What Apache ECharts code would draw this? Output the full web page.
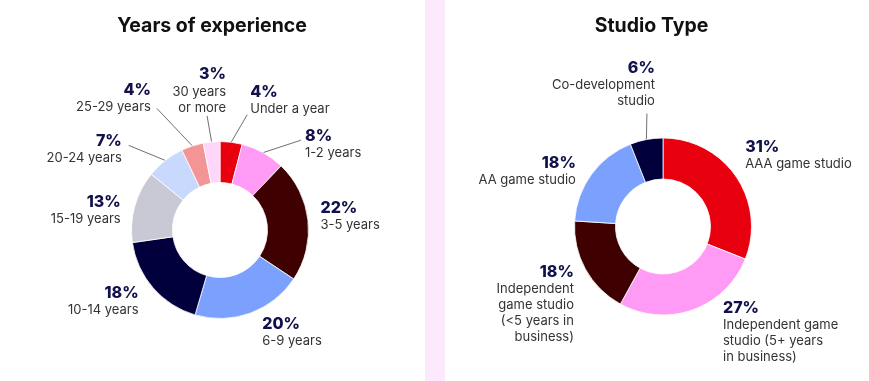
<!DOCTYPE html>
<html><head><meta charset="utf-8">
<script src="https://cdn.jsdelivr.net/npm/echarts@6/dist/echarts.min.js"></script>
<style>html,body{margin:0;padding:0;background:#fff}#c{width:869px;height:381px}</style>
</head><body><div id="c"></div>
<script>
// ---- data ----
const expTitle = 'Years of experience';
const expCategories = ['Under a year', '1-2 years', '3-5 years', '6-9 years', '10-14 years', '15-19 years', '20-24 years', '25-29 years', '30 years\nor more'];
const expValues = [4, 8, 22, 20, 18, 13, 7, 4, 3];

const studioTitle = 'Studio Type';
const studioCategories = ['AAA game studio', 'Independent game\nstudio (5+ years\nin business)', 'Independent\ngame studio\n(<5 years in\nbusiness)', 'AA game studio', 'Co-development\nstudio'];
const studioValues = [31, 27, 18, 18, 6];

// ---- styles ----
const expColors = ['#e8000e', '#ff9bf5', '#3e0000', '#7ca0fd', '#02003c', '#c9c9d5', '#c9d8fd', '#f49595', '#fdd6fa'];
const studioColors = ['#e8000e', '#ff9bf5', '#3e0000', '#7ca0fd', '#02003c'];
const expLines = [true, true, false, false, false, false, true, true, true];
const studioLines = [false, false, false, false, true];

// label offsets relative to ECharts' default outside position: [dx, dy]
// line end relative to label box: [edgeX(0 left/1 right), edgeY(0 top/1 bottom), ox, oy]
const expLabelShift = [[14, -42], [37, -8], [7.5, -3.5], [7, 19], [-9.5, 13], [-9, 4], [-38.5, -11], [-36.5, -47.5], [19.5, -51]];
const expLineEnd = [[0, 1, -3, -1], [0, 0, -4, 11.5], null, null, null, null, [1, 0, 7, 12], [1, 0, 6, 26], [1, 1, -19, 1.5]];
const studioLabelShift = [[4, -21], [25, 22.5], [-6.5, 35], [-10.5, -3.5], [13.5, -55.5]];
const studioLineEnd = [null, null, null, null, [1, 1, -8, 6]];

const shifts = [expLabelShift, studioLabelShift];
const lineEnds = [expLineEnd, studioLineEnd];

const chart = echarts.init(document.getElementById('c'), null, {renderer: 'canvas'});

const FONT = 'Inter, "Noto Sans", sans-serif';
const rich = {
  p: {fontFamily: FONT, fontSize: 16, fontWeight: 800, color: '#11114b', lineHeight: 18},
  n: {fontFamily: FONT, fontSize: 13, fontWeight: 400, color: '#333333', lineHeight: 16}
};

function fmt(params) {
  return '{p|' + params.value + '%}\n{n|' + params.name.split('\n').join('}\n{n|') + '}';
}

function layout(params) {
  const sh = shifts[params.seriesIndex][params.dataIndex];
  const r = params.labelRect;
  const align = params.align;
  const ax = align === 'right' ? r.x + r.width : (align === 'center' ? r.x + r.width / 2 : r.x);
  const ay = r.y + r.height / 2;
  const out = {x: ax + sh[0], y: ay + sh[1], align: align, verticalAlign: 'middle'};
  const le = lineEnds[params.seriesIndex][params.dataIndex];
  if (le && params.labelLinePoints) {
    const nx = r.x + sh[0], ny = r.y + sh[1];
    const ex = nx + le[0] * r.width + le[2];
    const ey = ny + le[1] * r.height + le[3];
    out.labelLinePoints = [params.labelLinePoints[0].slice(), [ex, ey]];
  }
  return out;
}

function makeData(cats, vals, colors, lines) {
  return cats.map((c, i) => ({
    name: c, value: vals[i],
    itemStyle: {color: colors[i]},
    labelLine: {show: lines[i]}
  }));
}

function pieSeries(center, data) {
  return {
    type: 'pie',
    center: center,
    radius: [47.5, 88.5],
    startAngle: 90,
    clockwise: true,
    avoidLabelOverlap: false,
    silent: true,
    itemStyle: {borderColor: '#ffffff', borderWidth: 0.8},
    label: {show: true, position: 'outside', formatter: fmt, rich: rich, distanceToLabelLine: 5},
    labelLine: {show: true, length: 0, length2: 0, lineStyle: {color: '#4a4a4a', width: 0.8}},
    labelLayout: layout,
    data: data
  };
}

chart.setOption({
  backgroundColor: '#ffffff',
  animation: false,
  graphic: [
    {type: 'rect', z: -10, shape: {x: 425, y: 0, width: 20, height: 381}, style: {fill: '#fce9fc'}},
    {type: 'text', x: 212, y: 26, style: {text: expTitle, font: '700 19.5px ' + FONT, fill: '#111111', textAlign: 'center', textVerticalAlign: 'middle'}},
    {type: 'text', x: 651.5, y: 26, style: {text: studioTitle, font: '700 19.5px ' + FONT, fill: '#111111', textAlign: 'center', textVerticalAlign: 'middle'}}
  ],
  series: [
    pieSeries([220, 230], makeData(expCategories, expValues, expColors, expLines)),
    pieSeries([663, 226.5], makeData(studioCategories, studioValues, studioColors, studioLines))
  ]
});
</script>
</body></html>
